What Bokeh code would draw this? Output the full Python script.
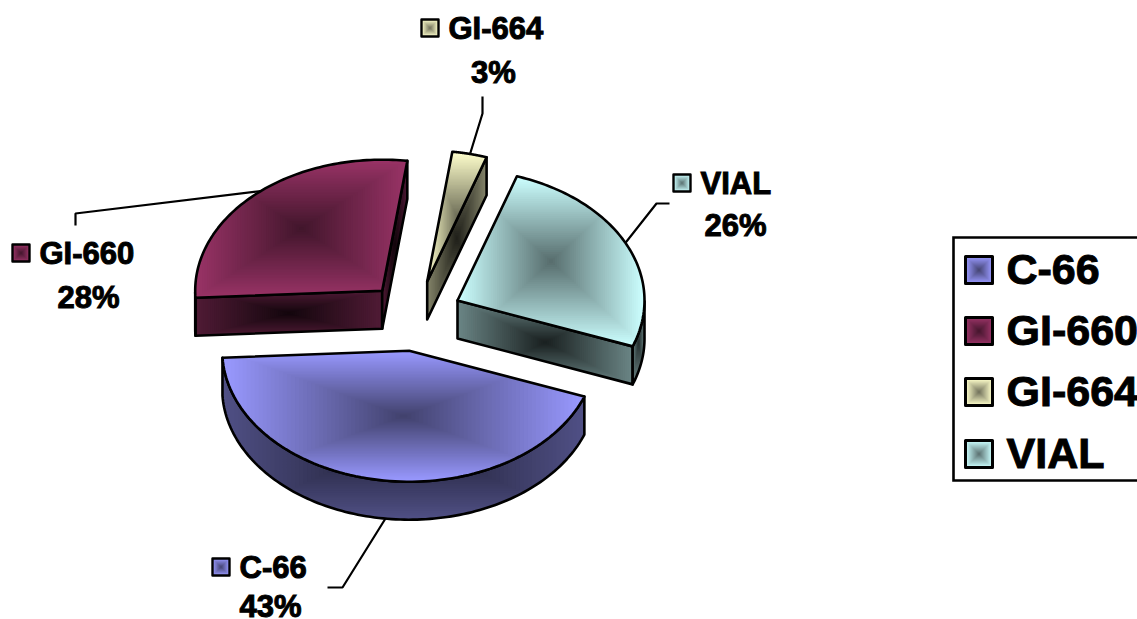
import numpy as np
from bokeh.plotting import figure
from bokeh.models import ColumnDataSource, Range1d
from bokeh.core.properties import value
from bokeh.embed import file_html
from bokeh.resources import INLINE

# ---- data ----
categories = ["C-66", "GI-660", "GI-664", "VIAL"]
shares = [43.45, 28.0, 3.0, 25.55]
base_colors = [(153, 153, 255), (153, 51, 102), (255, 255, 204), (204, 255, 255)]

# ---- layout ----
W, H = 1137, 619
START = 110.5            # clockwise from 12 o'clock, degrees
RX, RY, DEPTH = 187.0, 131.0, 38.0
apexes = [(408.7, 350.2), (381.7, 290.2), (426.7, 281.0), (457.0, 300.0)]
label_pos = [  # swatch left, text y, percent x, percent y
    (212, 567, 270, 606), (12, 253, 88, 297), (421, 28, 493, 72), (673, 183, 735, 225)]
leaders = [
    [(327, 587), (342, 587), (390, 510)],
    [(75, 225), (75, 213), (265, 190)],
    [(482, 96), (482, 113), (466, 165)],
    [(669, 203), (656, 203), (615, 255)],
]
legend_box = (953, 237, 1145, 480)
legend_y = [268, 329, 390, 452]

p = figure(width=W, height=H, output_backend="svg", toolbar_location=None,
           x_range=Range1d(0, W), y_range=Range1d(H, 0), min_border=0)
p.axis.visible = False
p.grid.visible = False
p.outline_line_color = None
p.background_fill_color = "white"
p.border_fill_color = "white"


def clip_rect(poly, x0, y0, x1, y1):
    def clip(pts, inside, cross):
        out = []
        for i in range(len(pts)):
            a, b = pts[i - 1], pts[i]
            if inside(b):
                if not inside(a):
                    out.append(cross(a, b))
                out.append(b)
            elif inside(a):
                out.append(cross(a, b))
        return out

    def cx(v):
        return lambda a, b: (v, a[1] + (b[1] - a[1]) * (v - a[0]) / (b[0] - a[0]))

    def cy(v):
        return lambda a, b: (a[0] + (b[0] - a[0]) * (v - a[1]) / (b[1] - a[1]), v)

    pts = list(poly)
    for inside, cross in [(lambda q: q[0] >= x0, cx(x0)), (lambda q: q[0] <= x1, cx(x1)),
                          (lambda q: q[1] >= y0, cy(y0)), (lambda q: q[1] <= y1, cy(y1))]:
        if not pts:
            break
        pts = clip(pts, inside, cross)
    return pts


def gradient(poly, color, edge, center, levels=45, power=1.0, lw=2.6):
    xs = [q[0] for q in poly]
    ys = [q[1] for q in poly]
    cx, cy = (min(xs) + max(xs)) / 2, (min(ys) + max(ys)) / 2
    hw, hh = (max(xs) - min(xs)) / 2, (max(ys) - min(ys)) / 2
    px, py, pc = [], [], []
    for t in np.linspace(1, 0.02, levels):
        pts = clip_rect(poly, cx - hw * t, cy - hh * t, cx + hw * t, cy + hh * t)
        if len(pts) < 3:
            continue
        k = center + (edge - center) * t ** power
        r, g, b = [int(round(c * k)) for c in color]
        px.append([q[0] for q in pts])
        py.append([q[1] for q in pts])
        pc.append("#%02x%02x%02x" % (r, g, b))
    p.patches("x", "y", fill_color="c", line_color=None,
              source=ColumnDataSource(dict(x=px, y=py, c=pc)))
    p.patch([q[0] for q in poly], [q[1] for q in poly], fill_color=None,
            line_color="black", line_width=lw, line_join="round")


def pt(apex, deg):
    a = np.radians(deg)
    return (apex[0] + RX * np.sin(a), apex[1] - RY * np.cos(a))


def down(q):
    return (q[0], q[1] + DEPTH)


# leader lines lie under the pie
for seg in leaders:
    p.line([q[0] for q in seg], [q[1] for q in seg], line_color="black", line_width=2.2)

# pie slices
angles = [START]
for s in shares:
    angles.append(angles[-1] + s * 3.6)

for i in [1, 2, 3, 0]:
    a0, a1 = angles[i], angles[i + 1]
    apex, col = apexes[i], base_colors[i]
    arc = [pt(apex, d) for d in np.linspace(a0, a1, 90)]
    # radial walls that face the viewer
    if np.cos(np.radians(a0 - 90)) < 0:
        gradient([apex, arc[0], down(arc[0]), down(apex)], col, 0.52, 0.12)
    if np.cos(np.radians(a1 + 90)) < 0:
        gradient([apex, arc[-1], down(arc[-1]), down(apex)], col, 0.52, 0.12)
    # outer wall on the front half of the ellipse
    run = []
    for d in np.linspace(a0, a1, 120):
        if np.cos(np.radians(d)) < 0:
            run.append(pt(apex, d))
    if len(run) > 2:
        gradient(run + [down(q) for q in reversed(run)], col, 0.52, 0.18)
    # top face
    gradient([apex] + arc, col, 1.0, 0.42)

font = value("Liberation Sans")


def swatch(x0, y0, size, col, lw):
    s = [(x0, y0), (x0 + size, y0), (x0 + size, y0 + size), (x0, y0 + size)]
    gradient(s, col, 1.0, 0.42, levels=14, lw=lw)


for i, name in enumerate(categories):
    sx, ty, px_, py_ = label_pos[i]
    swatch(sx, ty - 9, 17, base_colors[i], 2.4)
    p.text([sx + 27], [ty], text=[name], text_font=font, text_font_style="bold",
           text_font_size="31px", text_baseline="middle", text_align="left",
           text_color="black", text_outline_color="black")
    p.text([px_], [py_], text=[f"{round(shares[i])}%"], text_font=font,
           text_font_style="bold", text_font_size="31px", text_baseline="middle",
           text_align="center", text_color="black", text_outline_color="black")

# legend
x0, y0, x1, y1 = legend_box
p.patch([x0, x1, x1, x0], [y0, y0, y1, y1], fill_color="white", line_color="black",
        line_width=2.6, line_join="miter")
for i, name in enumerate(categories):
    swatch(965, legend_y[i] - 12, 27, base_colors[i], 3)
    p.text([1006], [legend_y[i]], text=[name], text_font=font, text_font_style="bold",
           text_font_size="43px", text_baseline="middle", text_align="left",
           text_color="black", text_outline_color="black")

open("out.html", "w").write(file_html(p, INLINE))
